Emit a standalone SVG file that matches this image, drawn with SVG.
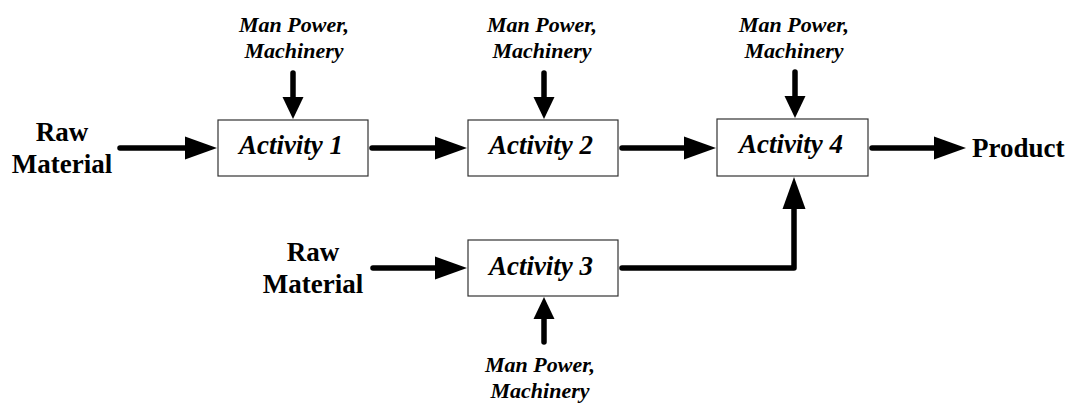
<svg xmlns="http://www.w3.org/2000/svg" width="1073" height="403" viewBox="0 0 1073 403">
  <style>
    .box { fill: #ffffff; stroke: #333333; stroke-width: 1.2; }
    text { font-family: 'Liberation Serif', 'DejaVu Serif', 'Times New Roman', serif; font-weight: bold; fill: #000; }
    .act { font-size: 27px; font-style: italic; text-anchor: middle; }
    .res { font-size: 22px; font-style: italic; text-anchor: middle; }
    .io { font-size: 27px; }
    .mid { text-anchor: middle; }
    .flow { fill: none; stroke: #000; stroke-width: 5.5; stroke-linecap: round; stroke-linejoin: round; }
    .flow-long { marker-end: url(#headLong); }
    .flow-short { marker-end: url(#headShort); }
  </style>
  <defs>
    <!-- long arrowhead for material flow -->
    <marker id="headLong" markerUnits="userSpaceOnUse" markerWidth="33" markerHeight="23" refX="1" refY="11.5" orient="auto" overflow="visible">
      <path d="M0,0 L32,11.5 L0,23 z" fill="#000"/>
    </marker>
    <!-- short arrowhead for resource inputs -->
    <marker id="headShort" markerUnits="userSpaceOnUse" markerWidth="23" markerHeight="21" refX="1" refY="10.5" orient="auto" overflow="visible">
      <path d="M0,0 L22,10.5 L0,21 z" fill="#000"/>
    </marker>
  </defs>

  <!-- connectors -->
  <g id="connectors">
    <path class="flow flow-long" d="M120,148 H186"/>
    <path class="flow flow-long" d="M372,148 H436"/>
    <path class="flow flow-long" d="M622,148 H685"/>
    <path class="flow flow-long" d="M872,148 H935"/>
    <path class="flow flow-long" d="M373,268 H436"/>
    <path class="flow flow-long" d="M622,268 H794 V208"/>
    <path class="flow flow-short" d="M293,73 V98"/>
    <path class="flow flow-short" d="M544,73 V98"/>
    <path class="flow flow-short" d="M795,72 V97"/>
    <path class="flow flow-short" d="M544,342 V318"/>
  </g>

  <!-- activities -->
  <g id="activity1">
    <rect class="box" x="218" y="120" width="150" height="56"/>
    <text class="act" x="291" y="154">Activity 1</text>
  </g>
  <g id="activity2">
    <rect class="box" x="468" y="120" width="150" height="56"/>
    <text class="act" x="541" y="154">Activity 2</text>
  </g>
  <g id="activity3">
    <rect class="box" x="468" y="240" width="150" height="56"/>
    <text class="act" x="541" y="275">Activity 3</text>
  </g>
  <g id="activity4">
    <rect class="box" x="717" y="119" width="151" height="57"/>
    <text class="act" x="791" y="153">Activity 4</text>
  </g>

  <!-- raw material inputs -->
  <g id="raw1">
    <text class="io mid" x="62" y="141">Raw</text>
    <text class="io mid" x="62" y="173">Material</text>
  </g>
  <g id="raw2">
    <text class="io mid" x="313" y="261">Raw</text>
    <text class="io mid" x="313" y="293">Material</text>
  </g>

  <!-- output -->
  <g id="product">
    <text class="io" x="972" y="157">Product</text>
  </g>

  <!-- resource inputs -->
  <g id="resources1">
    <text class="res" x="294" y="32">Man Power,</text>
    <text class="res" x="294" y="58">Machinery</text>
  </g>
  <g id="resources2">
    <text class="res" x="542" y="32">Man Power,</text>
    <text class="res" x="542" y="58">Machinery</text>
  </g>
  <g id="resources4">
    <text class="res" x="794" y="32">Man Power,</text>
    <text class="res" x="794" y="58">Machinery</text>
  </g>
  <g id="resources3">
    <text class="res" x="540" y="372">Man Power,</text>
    <text class="res" x="540" y="398">Machinery</text>
  </g>
</svg>
